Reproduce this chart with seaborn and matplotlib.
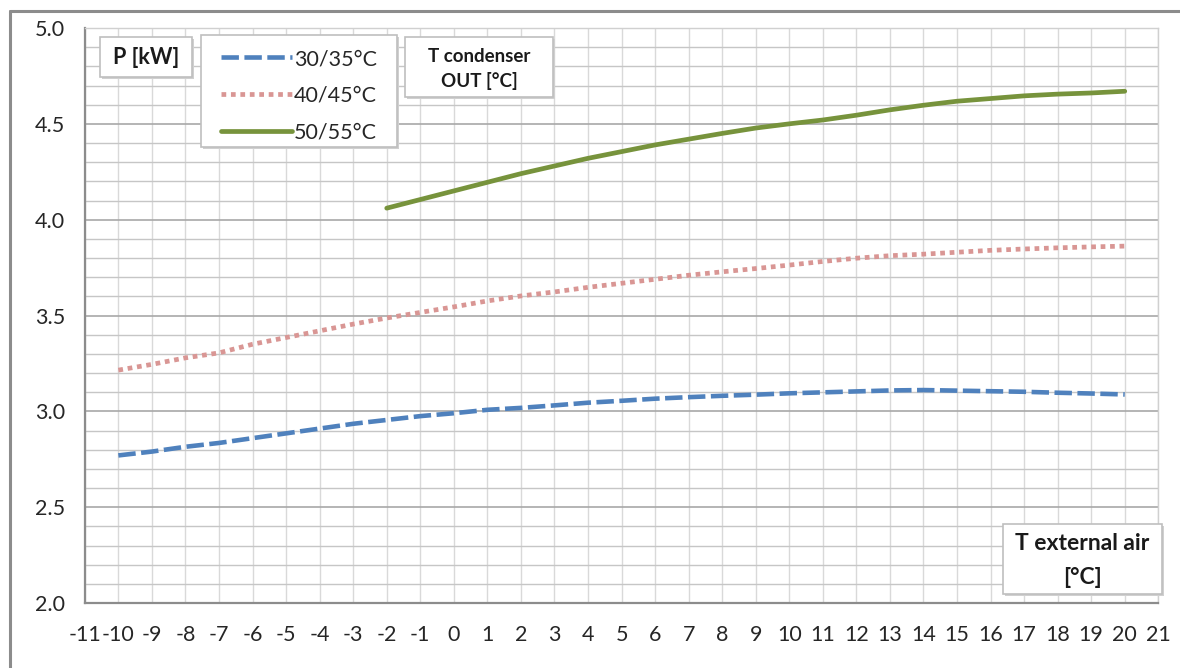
import numpy as np
import pandas as pd
import matplotlib
matplotlib.use("Agg")
import matplotlib.pyplot as plt
from matplotlib.patches import Rectangle
from matplotlib.lines import Line2D
import seaborn as sns

# Heating capacity vs. external air temperature
t_ext_a = list(range(-10, 21))
p_30_35 = [2.77, 2.79, 2.815, 2.835, 2.86, 2.885, 2.91, 2.935, 2.955, 2.975, 2.99,
           3.008, 3.018, 3.031, 3.045, 3.055, 3.066, 3.074, 3.081, 3.087, 3.094, 3.099, 3.104,
           3.109, 3.111, 3.108, 3.105, 3.102, 3.097, 3.093, 3.088]
p_40_45 = [3.215, 3.245, 3.279, 3.305, 3.35, 3.385, 3.42, 3.455, 3.487, 3.516, 3.545,
           3.576, 3.602, 3.623, 3.647, 3.668, 3.689, 3.71, 3.728, 3.745, 3.763, 3.782, 3.799,
           3.812, 3.82, 3.83, 3.84, 3.847, 3.853, 3.858, 3.862]
t_ext_b = list(range(-2, 21))
p_50_55 = [4.06, 4.105, 4.15, 4.195, 4.24, 4.28, 4.32, 4.355, 4.39, 4.42, 4.45, 4.478,
           4.50, 4.52, 4.545, 4.573, 4.597, 4.618, 4.632, 4.646, 4.655, 4.661, 4.67]
series_labels = ["30/35°C", "40/45°C", "50/55°C"]
x_ticks = list(range(-11, 22))
y_major = [2.0, 2.5, 3.0, 3.5, 4.0, 4.5, 5.0]

sns.set_style("white")
plt.rcParams["font.family"] = ["Lato", "DejaVu Sans"]

W, H = 1180, 668
fig = plt.figure(figsize=(W / 100, H / 100), dpi=100)


def fx(x):
    return x / W


def fy(y):
    return 1 - y / H


ax = fig.add_axes([fx(84.8), fy(603), fx(1158.3 - 84.8), (603 - 28) / H])

blue, red, green = "#4f81bd", "#d99694", "#77933c"
sns.lineplot(x=t_ext_a, y=p_30_35, ax=ax, color=blue, linewidth=3.3,
             linestyle=(0, (3.8, 1.2)), label=series_labels[0], legend=False)
sns.lineplot(x=t_ext_a, y=p_40_45, ax=ax, color=red, linewidth=3.4,
             linestyle=(0, (1.0, 1.0)), label=series_labels[1], legend=False)
sns.lineplot(x=t_ext_b, y=p_50_55, ax=ax, color=green, linewidth=3.4,
             label=series_labels[2], legend=False)

ax.set_xlim(-11, 21)
ax.set_ylim(2.0, 5.0)
ax.set_xticks(x_ticks)
ax.set_xticklabels([str(v) for v in x_ticks])
ax.set_yticks(y_major)
ax.set_yticklabels([f"{v:.1f}" for v in y_major])
ax.set_yticks(np.round(np.arange(2.0, 5.001, 0.1), 1), minor=True)
ax.set_xlabel("")
ax.set_ylabel("")

ax.set_axisbelow(True)
ax.grid(which="major", axis="x", color="#d9d9d9", linewidth=1.0)
ax.grid(which="minor", axis="y", color="#c6c6c6", linewidth=1.0)
ax.grid(which="major", axis="y", color="#a8a8a8", linewidth=1.2)

for side in ["left", "bottom"]:
    ax.spines[side].set_color("#8c8c8c")
    ax.spines[side].set_linewidth(1.6)
for side in ["top", "right"]:
    ax.spines[side].set_color("#d0d0d0")
    ax.spines[side].set_linewidth(1.0)

ax.tick_params(axis="x", which="major", direction="out", length=6, width=1.2,
               color="#8c8c8c", pad=10, labelsize=15.5, labelcolor="#262626")
ax.tick_params(axis="y", which="major", direction="out", length=8, width=1.2,
               color="#8c8c8c", pad=6, labelsize=15.5, labelcolor="#262626")
ax.tick_params(axis="y", which="minor", length=0)


def frame_box(x0, y0, x1, y1):
    fig.add_artist(Rectangle((fx(x0 + 2), fy(y1 + 2)), fx(x1 - x0), (y1 - y0) / H,
                             transform=fig.transFigure, facecolor="#d0d0d0",
                             edgecolor="none", zorder=5))
    fig.add_artist(Rectangle((fx(x0), fy(y1)), fx(x1 - x0), (y1 - y0) / H,
                             transform=fig.transFigure, facecolor="white",
                             edgecolor="#bfbfbf", linewidth=1.2, zorder=6))


def label_box(x0, y0, x1, y1, lines, size, line_y):
    frame_box(x0, y0, x1, y1)
    for txt, yy in zip(lines, line_y):
        fig.text(fx((x0 + x1) / 2), fy(yy), txt, ha="center", va="center",
                 fontsize=size, fontweight="bold", color="#1a1a1a", zorder=7)


label_box(100, 37, 192, 77, ["P [kW]"], 15.5, [57])
label_box(405, 37, 553, 97, ["T condenser", "OUT [°C]"], 13.5, [57, 81])
label_box(1003, 524, 1162, 594, ["T external air", "[°C]"], 16.5, [544, 578])

# Legend inside its own framed box
frame_box(201, 35, 397, 147)
handles = ax.get_lines()[:3]
leg = fig.legend(handles, series_labels, loc="upper left",
                 bbox_to_anchor=(fx(221), fy(49)), bbox_transform=fig.transFigure,
                 fontsize=15.5, frameon=False, handlelength=3.3, handletextpad=0.1,
                 labelspacing=0.78, borderpad=0, borderaxespad=0)
leg.set_zorder(8)
for t in leg.get_texts():
    t.set_color("#262626")

# Outer chart frame
fig.add_artist(Line2D([fx(10), fx(W + 5)], [fy(11), fy(11)], transform=fig.transFigure,
                      color="#8c8c8c", linewidth=2.2))
fig.add_artist(Line2D([fx(10), fx(10)], [fy(11), fy(H + 5)], transform=fig.transFigure,
                      color="#8c8c8c", linewidth=2.2))

fig.savefig("out.png", dpi=100, facecolor="white")
